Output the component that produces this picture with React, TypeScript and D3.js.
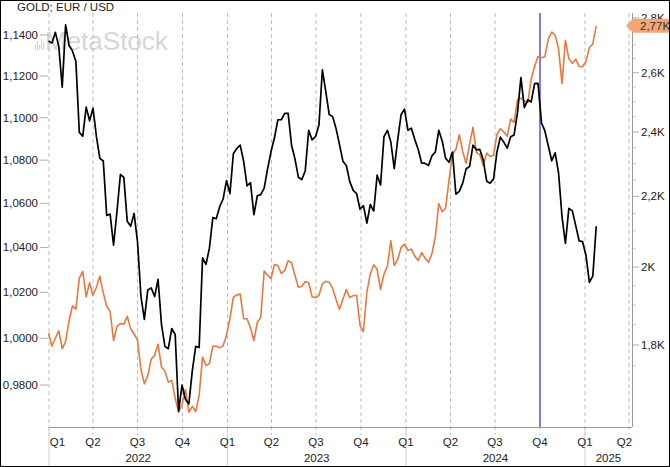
import React from "react";
import * as d3 from "d3";

const title = "GOLD; EUR / USD";
const watermark = "MetaStock";
const firstWeekEnding = "2021-12-31";

// weekly closes, EUR/USD (left axis)
const eurUsd = [
  1.1370,
  1.1360, 1.1413, 1.1344, 1.1146, 1.1450, 1.1349, 1.1322, 1.1270, 1.0930, 1.0912, 1.1050, 1.0985, 1.1045,
  1.0910, 1.0808, 1.0796, 1.0545, 1.0551, 1.0410, 1.0563, 1.0733, 1.0720, 1.0518, 1.0496, 1.0554, 1.0425,
  1.0183, 1.0082, 1.0211, 1.0220, 1.0182, 1.0258, 1.0060, 0.9965, 0.9955, 1.0042, 1.0016, 0.9690, 0.9800,
  0.9740, 0.9720, 0.9860, 0.9965, 0.9960, 1.0353, 1.0324, 1.0397, 1.0535, 1.0530, 1.0585, 1.0620, 1.0705,
  1.0645, 1.0830, 1.0855, 1.0870, 1.0795, 1.0680, 1.0695, 1.0548, 1.0635, 1.0640, 1.0670, 1.0760, 1.0840,
  1.0905, 1.0990, 1.0990, 1.1020, 1.1020, 1.0870, 1.0805, 1.0720, 1.0710, 1.0750, 1.0940, 1.0895, 1.0910,
  1.0965, 1.1230, 1.1125, 1.1015, 1.1005, 1.0948, 1.0873, 1.0795, 1.0775, 1.0700, 1.0660, 1.0645, 1.0573,
  1.0590, 1.0510, 1.0595, 1.0565, 1.0730, 1.0685, 1.0910, 1.0940, 1.0885, 1.0760, 1.0895, 1.1015, 1.1040,
  1.0940, 1.0950, 1.0897, 1.0850, 1.0787, 1.0785, 1.0775, 1.0820, 1.0838, 1.0940, 1.0890, 1.0808, 1.0790,
  1.0838, 1.0642, 1.0655, 1.0693, 1.0760, 1.0770, 1.0870, 1.0848, 1.0850, 1.0800, 1.0702, 1.0693, 1.0713,
  1.0838, 1.0908, 1.0884, 1.0856, 1.0910, 1.0918, 1.1025, 1.1192, 1.1048, 1.1085, 1.1075, 1.1163, 1.1164,
  1.0975, 1.0937, 1.0866, 1.0797, 1.0834, 1.0740, 1.0540, 1.0418, 1.0577, 1.0567, 1.0500, 1.0430, 1.0426,
  1.0365, 1.0244, 1.0272, 1.0496,
];

// weekly closes, Gold USD (right axis)
const gold = [
  1829,
  1797, 1817, 1835, 1791, 1808, 1860, 1898, 1889, 1970, 1988, 1921, 1958, 1925,
  1946, 1975, 1931, 1897, 1883, 1811, 1846, 1853, 1851, 1871, 1840, 1827, 1811,
  1742, 1708, 1727, 1766, 1775, 1802, 1747, 1738, 1712, 1716, 1675, 1644, 1661,
  1695, 1644, 1657, 1645, 1681, 1771, 1751, 1755, 1797, 1797, 1793, 1798, 1824,
  1865, 1920, 1926, 1928, 1865, 1865, 1842, 1811, 1856, 1868, 1989, 1978, 1969,
  2007, 2004, 1983, 1990, 2017, 2011, 1977, 1946, 1948, 1961, 1958, 1921, 1919,
  1925, 1955, 1962, 1959, 1943, 1914, 1889, 1915, 1940, 1919, 1924, 1925, 1848,
  1833, 1933, 1981, 2006, 1993, 1940, 1981, 2002, 2072, 2004, 2020, 2053, 2063,
  2045, 2049, 2029, 2018, 2039, 2024, 2013, 2036, 2083, 2179, 2155, 2165, 2250,
  2329, 2344, 2391, 2337, 2301, 2360, 2415, 2334, 2327, 2294, 2333, 2322, 2326,
  2392, 2411, 2400, 2386, 2443, 2431, 2507, 2512, 2503, 2497, 2577, 2622, 2658,
  2653, 2657, 2721, 2747, 2735, 2685, 2563, 2716, 2650, 2633, 2648, 2622, 2621,
  2640, 2690, 2703, 2770,
];

const leftTicks = [0.98, 1.0, 1.02, 1.04, 1.06, 1.08, 1.1, 1.12, 1.14];
const rightTicks = [1800, 2000, 2200, 2400, 2600, 2800];
const rightTickLabels = ["1,8K", "2K", "2,2K", "2,4K", "2,6K", "2,8K"];
const rightMinorTicks = [1750, 1850, 1900, 1950, 2050, 2100, 2150, 2250, 2300, 2350, 2450, 2500, 2550, 2650, 2700, 2750];
const lastGoldLabel = "2,77K";
const markerDate = "2024-10-01";
const axisStart = "2022-01-01";
const axisEnd = "2025-04-01";
const years = ["2022", "2023", "2024", "2025"];

const W = 670;
const H = 467;
const FONT = "'Liberation Sans', Arial, sans-serif";

export default function App() {
  const start = new Date(firstWeekEnding + "T00:00:00Z");
  const dates = eurUsd.map((_, i) => d3.utcDay.offset(start, 7 * i));

  const plotLeft = 49;
  const plotRight = 632;
  const plotTop = 13;
  const plotBottom = 427;

  const x = d3
    .scaleUtc()
    .domain([new Date(axisStart + "T00:00:00Z"), new Date(axisEnd + "T00:00:00Z")])
    .range([49, 629]);
  const yL = d3.scaleLog().domain([0.98, 1.14]).range([385, 35]);
  const yR = d3.scaleLog().domain([1800, 2400]).range([345, 132]);

  const lineL = d3
    .line<number>()
    .x((_, i) => x(dates[i]))
    .y((d) => yL(d));
  const lineR = d3
    .line<number>()
    .x((_, i) => x(dates[i]))
    .y((d) => yR(d));

  const quarters = d3.utcMonth
    .every(3)!
    .range(new Date(axisStart + "T00:00:00Z"), d3.utcDay.offset(new Date(axisEnd + "T00:00:00Z"), 1));
  const yearStarts = years.map((y) => new Date(y + "-01-01T00:00:00Z"));

  const fmtL = (v: number) => d3.format(".4f")(v).replace(".", ",");

  const qLabelW = 15;
  const lastY = yR(gold[gold.length - 1]);

  const markerX = x(new Date(markerDate + "T00:00:00Z"));

  return (
    <svg
      width={W}
      height={H}
      style={{ position: "absolute", left: 0, top: 0, background: "#fff" }}
      fontFamily={FONT}
    >
      <rect x={0} y={0} width={W} height={H} fill="#fff" />

      {/* watermark */}
      <g fill="#d6d6d6">
        {[6, 9, 5, 11, 8].map((h, i) => (
          <rect key={i} x={35 + i * 2} y={50 - h} width={1.2} height={h} />
        ))}
        <text x={45} y={50} fontSize={26} fontFamily={FONT}>
          {watermark}
        </text>
      </g>

      {/* title */}
      <text x={17} y={11} fontSize={11.5} fill="#222">
        {title}
      </text>

      {/* quarter gridlines */}
      {quarters.map((q, i) => (
        <line
          key={i}
          x1={x(q)}
          x2={x(q)}
          y1={plotTop}
          y2={plotBottom + 8}
          stroke="#bdbdbd"
          strokeWidth={1}
          strokeDasharray="4,3"
        />
      ))}

      {/* year separators below axis */}
      {yearStarts.map((d, i) => (
        <line key={i} x1={x(d)} x2={x(d)} y1={plotBottom} y2={H} stroke="#cfcfcf" strokeWidth={1} />
      ))}

      {/* axes lines */}
      <line x1={plotLeft} x2={plotRight} y1={plotBottom + 0.5} y2={plotBottom + 0.5} stroke="#9a9a9a" />
      <line x1={plotRight + 0.5} x2={plotRight + 0.5} y1={plotTop} y2={plotBottom} stroke="#9a9a9a" />

      {/* left ticks */}
      {leftTicks.map((t) => (
        <g key={t}>
          <line x1={40} x2={48} y1={yL(t)} y2={yL(t)} stroke="#b0b0b0" />
          <text x={38} y={yL(t) + 4} fontSize={11.5} textAnchor="end" fill="#222">
            {fmtL(t)}
          </text>
        </g>
      ))}

      {/* right ticks */}
      {rightMinorTicks.map((t) => (
        <line key={t} x1={plotRight + 1} x2={plotRight + 4} y1={yR(t)} y2={yR(t)} stroke="#cfcfcf" />
      ))}
      {rightTicks.map((t, i) => (
        <g key={t}>
          <line x1={plotRight + 1} x2={plotRight + 7} y1={yR(t)} y2={yR(t)} stroke="#b0b0b0" />
          <text x={641} y={yR(t) + 4} fontSize={11.5} fill="#222">
            {rightTickLabels[i]}
          </text>
        </g>
      ))}

      {/* quarter labels */}
      {quarters.map((q, i) => {
        const cx = Math.max(plotLeft + qLabelW / 2 + 1, Math.min(plotRight - qLabelW / 2, x(q)));
        return (
          <text key={i} x={cx} y={446} fontSize={11.5} textAnchor="middle" fill="#222">
            {"Q" + (Math.floor(q.getUTCMonth() / 3) + 1)}
          </text>
        );
      })}

      {/* year labels */}
      {yearStarts.map((d, i) => {
        const next = i < yearStarts.length - 1 ? x(yearStarts[i + 1]) : plotRight;
        return (
          <text key={i} x={(x(d) + next) / 2} y={462} fontSize={11.5} textAnchor="middle" fill="#222">
            {years[i]}
          </text>
        );
      })}

      {/* marker line */}
      <line x1={markerX} x2={markerX} y1={plotTop} y2={plotBottom} stroke="#7f7fdc" strokeWidth={2} />

      {/* series */}
      <path d={lineR(gold) || ""} fill="none" stroke="#e47a3e" strokeWidth={1.6} strokeLinejoin="round" />
      <path d={lineL(eurUsd) || ""} fill="none" stroke="#000" strokeWidth={1.7} strokeLinejoin="round" />

      {/* last value tag */}
      <path
        d={`M${plotRight - 6},${lastY} L${plotRight + 1},${lastY - 7} L${W},${lastY - 7} L${W},${lastY + 7} L${plotRight + 1},${lastY + 7} Z`}
        fill="#f4a674"
      />
      <text x={640} y={lastY + 4} fontSize={11.5} fill="#333">
        {lastGoldLabel}
      </text>

      {/* outer frame */}
      <rect x={0.5} y={0.5} width={W - 1} height={H - 1} fill="none" stroke="#000" strokeWidth={1} />
    </svg>
  );
}
